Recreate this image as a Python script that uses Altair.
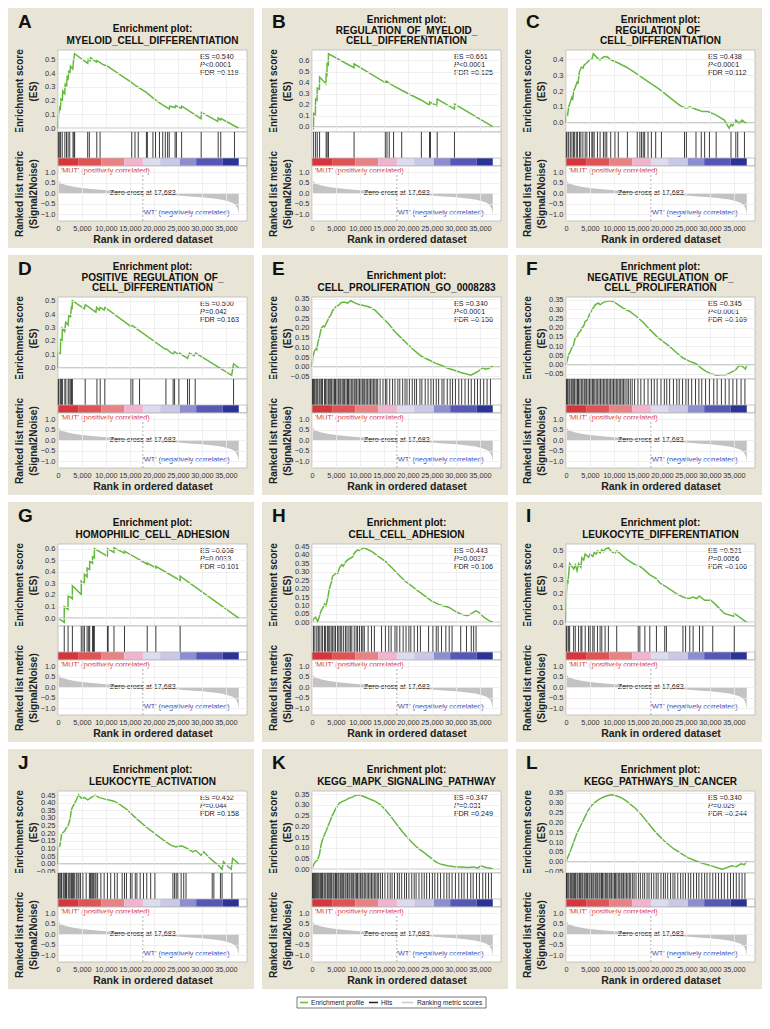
import altair as alt
import numpy as np
import pandas as pd

FONT = "Liberation Sans"
BEIGE = "#e8e5d6"
BORDER = "#b8b8b8"
GREEN = "#66b93f"

LETTERS = ["A", "B", "C", "D", "E", "F", "G", "H", "I", "J", "K", "L"]
TITLES = [
    ["Enrichment plot:", "MYELOID_CELL_DIFFERENTIATION"],
    ["Enrichment plot:", "REGULATION_OF_MYELOID_", "CELL_DIFFERENTIATION"],
    ["Enrichment plot:", "REGULATION_OF_", "CELL_DIFFERENTIATION"],
    ["Enrichment plot:", "POSITIVE_REGULATION_OF_", "CELL_DIFFERENTIATION"],
    ["Enrichment plot:", "CELL_PROLIFERATION_GO_0008283"],
    ["Enrichment plot:", "NEGATIVE_REGULATION_OF_", "CELL_PROLIFERATION"],
    ["Enrichment plot:", "HOMOPHILIC_CELL_ADHESION"],
    ["Enrichment plot:", "CELL_CELL_ADHESION"],
    ["Enrichment plot:", "LEUKOCYTE_DIFFERENTIATION"],
    ["Enrichment plot:", "LEUKOCYTE_ACTIVATION"],
    ["Enrichment plot:", "KEGG_MAPK_SIGNALING_PATHWAY"],
    ["Enrichment plot:", "KEGG_PATHWAYS_IN_CANCER"],
]
ES_TEXT = ["ES =0.540", "ES =0.661", "ES =0.438", "ES =0.500", "ES =0.340", "ES =0.345",
           "ES =0.608", "ES =0.443", "ES =0.521", "ES =0.452", "ES =0.347", "ES =0.340"]
P_TEXT = ["<0.0001", "<0.0001", "<0.0001", "=0.042", "<0.0001", "<0.0001",
          "=0.0033", "=0.0037", "=0.0056", "=0.044", "=0.031", "=0.029"]
FDR_TEXT = ["FDR =0.119", "FDR =0.125", "FDR =0.112", "FDR =0.163", "FDR =0.156", "FDR =0.169",
            "FDR =0.101", "FDR =0.106", "FDR =0.106", "FDR =0.158", "FDR =0.249", "FDR =0.244"]
TICK_STEP = [0.1, 0.1, 0.1, 0.1, 0.05, 0.05, 0.1, 0.05, 0.1, 0.05, 0.05, 0.05]

# running enrichment score: (rank in thousands, ES)
ES_A = [(0, 0), (0.1, 0.09), (0.3, 0.15), (0.5, 0.14), (0.6, 0.21), (0.9, 0.20), (1.0, 0.27), (1.4, 0.25),
        (1.5, 0.32), (1.8, 0.31), (1.9, 0.37), (2.1, 0.36), (2.2, 0.41), (2.5, 0.40), (2.6, 0.45), (3.1, 0.43),
        (3.2, 0.48), (3.45, 0.54), (6.2, 0.47), (6.3, 0.50), (6.7, 0.49), (6.8, 0.51), (8.0, 0.48), (8.1, 0.49),
        (9.5, 0.46), (10.3, 0.45), (15.4, 0.33), (16.1, 0.31), (18.4, 0.26), (20.5, 0.20), (21.8, 0.17),
        (23.2, 0.14), (23.3, 0.16), (24.4, 0.15), (24.5, 0.165), (25.7, 0.145), (25.8, 0.16), (29.8, 0.07),
        (29.9, 0.115), (33.3, 0.05), (33.4, 0.075), (33.9, 0.06), (34.0, 0.07), (37.68, 0.0)]
ES_B = [(0, 0), (0.3, -0.014), (0.34, 0.12), (0.7, 0.11), (0.75, 0.25), (1.05, 0.24), (1.1, 0.35), (1.55, 0.34),
        (1.58, 0.45), (2.9, 0.39), (2.95, 0.48), (3.1, 0.47), (3.15, 0.57), (3.4, 0.56), (3.43, 0.661),
        (8.75, 0.535), (8.77, 0.57), (15.25, 0.40), (15.28, 0.41), (15.6, 0.40), (15.63, 0.41), (16.1, 0.395),
        (17.0, 0.37), (18.7, 0.33), (22.8, 0.24), (24.5, 0.195), (24.52, 0.225), (26.0, 0.19), (26.1, 0.25),
        (29.7, 0.16), (29.72, 0.205), (37.68, 0.0)]
ES_C = [(0, 0), (0.1, 0.06), (0.35, 0.05), (0.55, 0.10), (0.9, 0.13), (1.2, 0.16), (1.4, 0.15), (1.6, 0.20),
        (1.9, 0.22), (2.3, 0.255), (2.5, 0.25), (2.8, 0.32), (3.2, 0.35), (3.6, 0.345), (3.7, 0.36), (4.4, 0.38),
        (5.0, 0.40), (5.4, 0.40), (5.7, 0.435), (6.8, 0.40), (7.1, 0.395), (7.8, 0.415), (8.5, 0.417),
        (9.2, 0.40), (11.3, 0.37), (12.6, 0.35), (14.7, 0.31), (16.8, 0.265), (19.5, 0.21), (21.6, 0.16),
        (23.7, 0.11), (24.4, 0.10), (25.1, 0.09), (25.8, 0.10), (27.1, 0.085), (28.5, 0.07), (29.6, 0.07),
        (31.3, 0.048), (33.0, 0.017), (34.0, -0.035), (34.4, -0.01), (34.7, -0.02), (35.4, 0.017),
        (36.1, -0.005), (36.7, 0.017), (37.5, -0.004), (37.68, 0.0)]
ES_D = [(0, 0), (0.07, 0.11), (0.5, 0.105), (0.55, 0.21), (0.85, 0.2), (0.9, 0.295), (1.4, 0.27), (1.6, 0.34),
        (2.1, 0.32), (2.25, 0.39), (2.6, 0.38), (2.8, 0.45), (2.95, 0.445), (3.0, 0.50), (5.5, 0.44), (5.7, 0.47),
        (7.9, 0.415), (8.05, 0.45), (8.6, 0.43), (8.8, 0.45), (9.6, 0.43), (9.8, 0.45), (15.1, 0.31),
        (15.5, 0.315), (16.8, 0.28), (22.3, 0.14), (22.6, 0.14), (24.0, 0.10), (24.3, 0.12), (25.0, 0.10),
        (25.3, 0.11), (27.0, 0.07), (27.4, 0.11), (28.4, 0.09), (28.7, 0.11), (36.2, -0.056), (36.6, 0.03),
        (37.68, 0.0)]
ES_E = [(0, 0), (0.2, 0.054), (0.5, 0.08), (0.9, 0.095), (1.0, 0.09), (1.2, 0.12), (1.6, 0.16), (1.9, 0.195),
        (2.3, 0.21), (2.6, 0.205), (2.9, 0.22), (3.3, 0.24), (3.6, 0.255), (4.0, 0.27), (4.3, 0.29), (5.0, 0.31),
        (5.7, 0.32), (6.0, 0.33), (6.7, 0.333), (7.4, 0.328), (8.1, 0.34), (8.8, 0.33), (9.8, 0.32),
        (11.2, 0.313), (12.2, 0.305), (13.2, 0.29), (14.6, 0.255), (16.0, 0.22), (17.3, 0.18), (18.7, 0.146),
        (20.1, 0.112), (21.5, 0.08), (22.8, 0.054), (24.2, 0.037), (25.6, 0.02), (26.9, 0.008), (28.3, -0.008),
        (29.7, -0.018), (31.0, -0.03), (32.4, -0.039), (33.1, -0.044), (33.8, -0.035), (34.8, -0.022),
        (35.5, -0.005), (36.2, -0.013), (36.9, -0.008), (37.68, 0.003)]
ES_F = [(0, 0), (0.2, 0.018), (0.55, 0.054), (0.9, 0.072), (1.2, 0.09), (1.6, 0.108), (1.9, 0.144), (2.3, 0.15),
        (2.6, 0.17), (3.0, 0.18), (3.3, 0.197), (3.7, 0.21), (4.0, 0.233), (4.4, 0.24), (4.7, 0.26), (5.0, 0.275),
        (5.4, 0.296), (5.8, 0.31), (6.1, 0.323), (6.5, 0.33), (6.8, 0.332), (7.1, 0.323), (7.5, 0.33),
        (7.8, 0.336), (8.3, 0.34), (8.8, 0.345), (9.4, 0.344), (9.9, 0.341), (10.9, 0.323), (11.9, 0.305),
        (13.3, 0.287), (14.7, 0.26), (16.1, 0.228), (17.5, 0.189), (18.9, 0.153), (20.2, 0.126), (21.6, 0.099),
        (23.0, 0.066), (24.4, 0.036), (25.8, 0.018), (27.1, 0.005), (28.2, -0.018), (29.2, -0.036),
        (30.2, -0.048), (31.3, -0.057), (32.3, -0.054), (33.4, -0.054), (34.4, -0.041), (35.4, -0.027),
        (36.1, -0.004), (36.8, -0.009), (37.4, -0.023), (37.68, -0.002)]
ES_G = [(0, 0), (1.3, -0.036), (1.3, 0.098), (2.1, 0.075), (2.1, 0.195), (3.0, 0.168), (3.0, 0.28), (4.85, 0.204),
        (4.85, 0.32), (5.5, 0.30), (5.5, 0.377), (6.07, 0.357), (6.07, 0.433), (6.6, 0.42), (6.6, 0.49),
        (7.2, 0.475), (7.2, 0.53), (7.58, 0.52), (7.58, 0.60), (10.3, 0.535), (10.3, 0.60), (10.5, 0.595),
        (11.67, 0.567), (11.67, 0.608), (13.86, 0.562), (13.86, 0.578), (18.6, 0.466), (18.6, 0.475),
        (20.4, 0.433), (20.4, 0.447), (25.46, 0.325), (25.46, 0.363), (37.68, 0.0)]
ES_H = [(0, 0), (0.35, 0.02), (0.75, 0.03), (1.2, 0.004), (1.6, 0.04), (1.9, 0.068), (2.3, 0.088), (2.6, 0.108),
        (2.9, 0.098), (3.3, 0.147), (3.6, 0.196), (4.0, 0.235), (4.3, 0.274), (4.7, 0.284), (5.0, 0.294),
        (5.4, 0.29), (5.7, 0.323), (6.2, 0.342), (6.5, 0.333), (7.1, 0.362), (7.7, 0.376), (8.1, 0.382),
        (8.5, 0.39), (8.8, 0.411), (9.5, 0.43), (10.0, 0.425), (10.5, 0.44), (10.8, 0.443), (11.5, 0.434),
        (12.5, 0.42), (13.9, 0.39), (15.3, 0.362), (16.7, 0.323), (18.0, 0.284), (19.4, 0.245), (20.8, 0.215),
        (22.1, 0.186), (23.5, 0.157), (24.9, 0.127), (26.3, 0.108), (27.3, 0.098), (28.6, 0.088), (29.7, 0.068),
        (31.0, 0.049), (32.4, 0.039), (33.1, 0.049), (34.1, 0.068), (34.8, 0.059), (35.8, 0.03), (36.9, 0.01),
        (37.68, 0.0)]
ES_I = [(0, 0), (0.07, 0.166), (0.2, 0.293), (0.4, 0.28), (0.76, 0.41), (1.6, 0.373), (1.93, 0.40), (2.3, 0.36),
        (2.62, 0.41), (3.1, 0.385), (3.31, 0.45), (3.7, 0.435), (4.0, 0.477), (4.7, 0.454), (5.04, 0.477),
        (5.59, 0.46), (5.87, 0.488), (6.3, 0.477), (6.56, 0.50), (7.11, 0.484), (7.46, 0.507), (7.8, 0.493),
        (8.15, 0.51), (8.84, 0.521), (9.5, 0.493), (10.2, 0.484), (10.57, 0.50), (12.6, 0.442), (14.7, 0.396),
        (15.06, 0.40), (16.1, 0.373), (17.5, 0.332), (18.9, 0.304), (19.5, 0.276), (20.9, 0.247), (23.0, 0.20),
        (24.4, 0.177), (25.1, 0.17), (25.8, 0.166), (26.4, 0.177), (27.3, 0.166), (27.8, 0.184), (28.9, 0.154),
        (30.2, 0.154), (31.3, 0.12), (33.0, 0.062), (35.08, 0.04), (35.1, 0.062), (37.68, 0.0)]
ES_J = [(0, 0), (0.07, 0.11), (0.4, 0.12), (0.75, 0.195), (1.1, 0.206), (1.4, 0.217), (1.8, 0.238), (2.1, 0.248),
        (2.5, 0.29), (2.8, 0.355), (3.1, 0.376), (3.5, 0.397), (3.8, 0.418), (4.3, 0.452), (4.85, 0.43),
        (5.5, 0.433), (6.2, 0.418), (7.2, 0.44), (7.7, 0.45), (8.6, 0.433), (9.6, 0.425), (10.6, 0.418),
        (11.7, 0.41), (13.0, 0.386), (14.4, 0.355), (15.8, 0.312), (17.1, 0.276), (18.5, 0.238), (19.9, 0.206),
        (21.2, 0.174), (22.6, 0.142), (23.6, 0.121), (24.6, 0.11), (25.3, 0.117), (26.0, 0.115), (27.0, 0.10),
        (28.1, 0.079), (28.7, 0.089), (29.8, 0.057), (30.4, 0.079), (31.5, 0.042), (32.5, 0.015),
        (33.5, -0.01), (34.2, -0.035), (34.5, 0.015), (35.2, -0.01), (36.1, -0.035), (36.4, 0.036),
        (37.68, 0.0)]
ES_K = [(0, 0), (0.35, 0.023), (0.75, 0.036), (1.2, 0.044), (1.6, 0.075), (1.9, 0.114), (2.3, 0.145),
        (2.9, 0.176), (3.6, 0.215), (4.3, 0.253), (5.0, 0.285), (5.7, 0.308), (6.4, 0.316), (7.1, 0.323),
        (7.7, 0.331), (8.4, 0.336), (9.1, 0.344), (9.8, 0.347), (10.8, 0.339), (11.9, 0.328), (13.2, 0.316),
        (14.3, 0.30), (15.3, 0.277), (16.7, 0.238), (18.0, 0.199), (19.4, 0.16), (20.8, 0.126), (22.1, 0.098),
        (23.5, 0.075), (24.9, 0.051), (25.9, 0.033), (26.9, 0.023), (28.3, 0.016), (29.7, 0.012), (31.0, 0.011),
        (32.4, 0.008), (33.8, 0.011), (34.5, 0.005), (35.2, 0.016), (36.3, 0.008), (37.2, 0.005), (37.68, 0.002)]
ES_L = [(0, 0), (0.5, 0.03), (1.0, 0.06), (1.6, 0.1), (2.2, 0.14), (3.0, 0.18), (3.8, 0.22), (4.6, 0.26),
        (5.5, 0.29), (6.5, 0.31), (7.5, 0.325), (8.5, 0.335), (9.5, 0.34), (10.5, 0.335), (11.5, 0.325),
        (12.5, 0.31), (13.5, 0.29), (14.5, 0.27), (15.5, 0.245), (16.5, 0.215), (17.5, 0.185), (18.5, 0.155),
        (19.5, 0.13), (20.5, 0.105), (21.5, 0.085), (22.5, 0.065), (23.5, 0.05), (24.5, 0.035), (25.5, 0.02),
        (26.5, 0.01), (27.5, 0.0), (28.5, -0.008), (29.5, -0.015), (30.5, -0.022), (31.5, -0.03),
        (32.5, -0.038), (33.5, -0.03), (34.5, -0.02), (35.5, -0.025), (36.5, -0.01), (37.2, -0.015),
        (37.68, 0.002)]
ES_CURVES = [ES_A, ES_B, ES_C, ES_D, ES_E, ES_F, ES_G, ES_H, ES_I, ES_J, ES_K, ES_L]

# gene-set hit positions (rank in thousands)
HITS_A = [0.07, 0.27, 0.54, 0.88, 1.43, 1.77, 2.11, 2.45, 3.13, 3.33, 3.47, 6.19, 6.53, 8.09, 8.77, 15.37,
          16.05, 16.73, 18.43, 18.63, 19.79, 20.33, 21.15, 21.83, 22.37, 22.85, 23.19, 24.41, 24.68, 25.77,
          29.85, 33.39, 33.93, 36.79]
HITS_B = [0.34, 0.75, 1.1, 1.58, 2.95, 3.15, 3.43, 8.77, 15.28, 15.63, 16.1, 17.0, 18.7, 22.8, 24.5, 24.7,
          26.1, 29.7]
HITS_C = [0.07, 0.2, 0.55, 0.9, 1.24, 1.59, 1.73, 2.14, 2.42, 2.83, 3.1, 3.52, 4.0, 4.35, 4.9, 5.39, 5.59,
          5.87, 6.56, 7.11, 7.8, 8.15, 8.5, 9.32, 10.2, 10.9, 12.8, 14.85, 15.4, 15.75, 16.1, 16.4, 17.1, 17.8,
          18.7, 19.9, 24.7, 25.1, 27.1, 28.2, 28.9, 29.9, 31.3, 34.4, 35.4, 35.8, 37.2]
HITS_D = [0.07, 0.2, 0.55, 0.75, 0.96, 1.43, 1.64, 2.12, 2.32, 2.66, 2.8, 3.0, 5.67, 8.12, 8.8, 9.76, 15.2,
          15.6, 17.0, 22.5, 24.0, 24.3, 25.2, 27.0, 27.4, 28.6, 36.6]
HITS_E = [0.1, 0.3, 0.5, 0.8, 1.0, 1.2, 1.5, 1.7, 2.0, 2.2, 2.6, 2.8, 3.1, 3.4, 3.6, 3.9, 4.1, 4.4, 4.7, 4.9,
          5.2, 5.5, 5.8, 6.0, 6.3, 6.6, 6.8, 7.1, 7.4, 7.6, 7.9, 8.2, 8.5, 8.8, 9.0, 9.3, 9.6, 9.9, 10.2, 10.5,
          10.8, 11.0, 11.3, 11.6, 11.9, 12.2, 12.5, 12.8, 13.1, 13.4, 13.7, 14.2, 14.8, 15.3, 15.6, 16.2, 16.8,
          17.3, 17.9, 18.3, 18.9, 19.4, 19.8, 20.3, 20.9, 21.4, 21.8, 22.5, 22.9, 23.6, 24.2, 24.8, 25.3, 25.9,
          26.4, 27.1, 27.5, 28.2, 28.8, 29.3, 29.9, 30.6, 31.2, 31.9, 32.6, 33.2, 33.9, 34.5, 35.1, 35.8, 36.5,
          37.2]
HITS_F = [0.1, 0.3, 0.6, 0.8, 1.1, 1.3, 1.6, 1.8, 2.1, 2.4, 2.6, 2.9, 3.2, 3.5, 3.8, 4.0, 4.3, 4.6, 4.9, 5.2,
          5.5, 5.7, 6.0, 6.3, 6.6, 6.9, 7.2, 7.5, 7.8, 8.1, 8.4, 8.7, 9.0, 9.3, 9.6, 9.9, 10.2, 10.5, 10.8,
          11.1, 11.4, 11.7, 12.0, 12.3, 12.7, 13.0, 13.4, 13.8, 14.3, 15.0, 15.6, 16.3, 17.1, 17.8, 18.4, 19.0,
          19.8, 20.5, 21.0, 21.6, 22.4, 23.1, 23.6, 24.3, 25.0, 25.5, 26.2, 27.0, 27.7, 28.3, 29.1, 29.9, 30.8,
          31.5, 32.4, 33.2, 34.0, 34.8, 35.6, 36.5, 37.3]
HITS_G = [1.3, 2.1, 3.0, 4.85, 5.2, 5.5, 6.07, 6.4, 6.6, 7.2, 7.4, 7.58, 10.3, 10.45, 11.67, 13.86, 18.6,
          20.4, 25.46]
HITS_H = [0.3, 0.6, 1.0, 1.3, 1.5, 1.9, 2.2, 2.6, 2.8, 3.2, 3.4, 3.7, 4.0, 4.3, 4.6, 4.9, 5.3, 5.6, 5.9, 6.2,
          6.6, 7.0, 7.3, 7.7, 8.0, 8.3, 8.8, 9.2, 9.5, 9.9, 10.3, 10.6, 10.9, 11.7, 12.4, 13.0, 14.5, 15.3,
          16.0, 16.5, 17.3, 17.7, 18.3, 19.0, 19.6, 20.2, 20.6, 21.3, 22.0, 22.6, 24.3, 25.2, 25.9, 26.3, 27.0,
          27.9, 28.6, 29.2, 31.0, 32.2, 33.2, 33.7, 34.2]
HITS_I = [0.07, 0.2, 0.55, 0.76, 1.59, 1.93, 2.62, 3.11, 3.31, 4.0, 4.7, 5.04, 5.59, 5.87, 6.56, 7.11, 7.46,
          8.15, 8.84, 10.57, 15.06, 15.4, 16.44, 17.47, 18.85, 20.58, 20.93, 24.38, 24.93, 25.8, 26.5, 27.83,
          28.52, 30.59, 35.08]
HITS_J = [0.07, 0.2, 0.41, 0.61, 0.75, 1.09, 1.3, 1.57, 1.77, 2.12, 2.32, 2.53, 2.8, 3.0, 3.21, 3.48, 3.82,
          4.16, 4.37, 4.71, 5.19, 5.87, 6.55, 6.76, 7.03, 7.24, 7.44, 7.71, 7.92, 8.26, 8.94, 9.62, 10.3, 10.99,
          11.81, 12.35, 13.38, 13.86, 14.27, 15.09, 15.43, 16.11, 16.45, 17.13, 17.82, 18.5, 19.32, 20.2,
          23.96, 24.3, 24.64, 24.98, 25.67, 26.21, 26.69, 32.15, 32.49, 33.86, 34.2, 36.25]
HITS_K = [0.1, 0.3, 0.5, 0.7, 0.9, 1.1, 1.3, 1.5, 1.8, 2.0, 2.2, 2.5, 2.7, 2.9, 3.2, 3.4, 3.7, 3.9, 4.1, 4.4,
          4.6, 4.9, 5.1, 5.4, 5.6, 5.9, 6.1, 6.4, 6.6, 6.9, 7.1, 7.4, 7.7, 7.9, 8.2, 8.5, 8.7, 9.0, 9.3, 9.5,
          9.8, 10.1, 10.4, 10.6, 10.9, 11.2, 11.5, 11.8, 12.1, 12.4, 12.7, 13.0, 13.3, 13.6, 13.9, 14.3, 14.7,
          15.2, 15.8, 16.3, 16.7, 17.2, 17.8, 18.2, 18.7, 19.3, 19.7, 20.2, 20.8, 21.3, 21.7, 22.3, 22.9, 23.4,
          23.9, 24.5, 25.1, 25.6, 26.2, 26.8, 27.5, 28.1, 28.6, 29.2, 29.9, 30.6, 31.2, 31.7, 32.4, 33.1, 33.6,
          34.3, 34.9, 35.6, 36.2, 36.8, 37.4]
HITS_L = [0.1, 0.2, 0.4, 0.6, 0.9, 1.1, 1.3, 1.6, 1.8, 2.0, 2.3, 2.5, 2.8, 3.0, 3.3, 3.5, 3.8, 4.0, 4.3, 4.5,
          4.8, 5.0, 5.3, 5.6, 5.8, 6.1, 6.3, 6.6, 6.9, 7.1, 7.4, 7.6, 7.9, 8.2, 8.4, 8.7, 9.0, 9.2, 9.5, 9.8,
          10.1, 10.3, 10.6, 10.9, 11.2, 11.5, 11.7, 12.0, 12.3, 12.6, 12.9, 13.2, 13.5, 13.9, 14.2, 14.6, 15.1,
          15.5, 16.0, 16.4, 16.9, 17.3, 17.8, 18.3, 18.8, 19.2, 19.8, 20.3, 20.7, 21.2, 21.8, 22.3, 22.7, 23.3,
          23.9, 24.4, 24.9, 25.5, 26.0, 26.6, 27.2, 27.7, 28.3, 28.9, 29.4, 30.0, 30.6, 31.2, 31.8, 32.4, 33.0,
          33.7, 34.3, 34.9, 35.5, 36.1, 36.7, 37.3]
HITS = [HITS_A, HITS_B, HITS_C, HITS_D, HITS_E, HITS_F, HITS_G, HITS_H, HITS_I, HITS_J, HITS_K, HITS_L]

# ranked list metric (shared by all panels)
METRIC_RANK_K = [0, 0.05, 0.2, 0.5, 1.0, 2.0, 3.5, 5.0, 7.0, 10.0, 12.5, 15.0, 17.683, 20.0, 22.5, 25.0, 27.5,
                 30.0, 32.0, 34.0, 35.5, 36.5, 37.2, 37.5, 37.683]
METRIC_VALUE = [0.80, 0.68, 0.58, 0.50, 0.44, 0.37, 0.30, 0.25, 0.20, 0.14, 0.10, 0.06, 0.0, -0.04, -0.08,
                -0.11, -0.15, -0.19, -0.24, -0.30, -0.38, -0.46, -0.62, -0.78, -1.02]
ZERO_CROSS = 17683
WT_LABEL_RANK = 35800
BAR_EDGES_K = [0, 4.2, 9.0, 13.8, 17.7, 21.3, 25.4, 28.8, 34.3, 37.683]
BAR_COLORS = ["#d6363b", "#e05355", "#e98284", "#f0b4cf", "#dddcee", "#c9c8e6", "#8c8ecf", "#5558b6", "#2b3396"]
X_TICKS = [0, 5000, 10000, 15000, 20000, 25000, 30000, 35000]
RANK_TICKS = [-1.0, -0.5, 0.0, 0.5, 1.0]
LEGEND_ITEMS = ["Enrichment profile", "Hits", "Ranking metric scores"]
LEGEND_COLORS = [GREEN, "#222222", "#c8c8c8"]

# layout (pixels)
LM, W, RM = 50, 189, 7
T, H_ES, H_HITS, HITS_BAND, H_RANK, B = 42, 82, 34, 26, 55, 27
LEGEND_PANEL = 10            # the legend box hangs below panel K (bottom middle)
LEG_TOP = H_RANK + B + 8     # relative to panel K's ranked-metric plot
LEG_BOX = (-15, 174)
LEG_LINES = [(-12, -4), (57, 66), (90, 101)]
LEG_TEXT_X = [-1, 69, 105]

one = pd.DataFrame({"k": [0]})
xs = alt.Scale(domain=[0, 39400], nice=False, zero=False)
ys_rank = alt.Scale(domain=[-1.32, 1.3], nice=False, zero=False)


def rect(x1, x2, y1, y2, **kw):
    return alt.Chart(one).mark_rect(**kw).encode(
        x=alt.value(x1), x2=alt.value(x2), y=alt.value(y1), y2=alt.value(y2))


def txt(text, x, y, **kw):
    return alt.Chart(one).mark_text(text=text, **kw).encode(x=alt.value(x), y=alt.value(y))


def y_axis(title, values, fmt):
    return alt.Axis(title=title, values=values, format=fmt, labelFontSize=7.5, labelColor="#333",
                    labelPadding=3, labelOverlap=False, ticks=False, domain=False, grid=True,
                    gridColor="#ececec", gridWidth=0.8, titleFontSize=10, titleFontWeight="bold",
                    titleColor="#222", titleLineHeight=14, titlePadding=3, minExtent=17, maxExtent=17,
                    zindex=1)


ES_XAXIS = alt.Axis(values=X_TICKS, grid=True, labels=False, ticks=False, domain=False, title="",
                    gridColor="#ececec", gridWidth=0.8, zindex=1)
RANK_XAXIS = alt.Axis(values=X_TICKS, format=",d", title="Rank in ordered dataset", labelFontSize=7.3,
                      labelColor="#333", labelPadding=3, labelOverlap=False, labelFlush=False, ticks=False,
                      domain=False, grid=True, gridColor="#ececec", gridWidth=0.8, titleFontSize=10.5,
                      titleFontWeight="bold", titleColor="#222", titlePadding=3, zindex=1)
RANK_YAXIS = y_axis(["Ranked list metric", "(Signal2Noise)"], RANK_TICKS, ".1f")


def es_view(i):
    pts = ES_CURVES[i]
    df = pd.DataFrame({"rank": [p[0] * 1000 for p in pts], "es": [p[1] for p in pts]})
    df["i"] = range(len(df))
    lo_d, hi_d = float(df["es"].min()), float(df["es"].max())
    r = hi_d - lo_d
    lo, hi = lo_d - 0.05 * r, hi_d + 0.05 * r
    step = TICK_STEP[i]
    ticks = [float(np.round(v, 4)) for v in np.arange(np.ceil(lo / step - 1e-9) * step, hi + 1e-9, step)]
    fmt = ".1f" if step >= 0.1 else ".2f"
    ys = alt.Scale(domain=[lo, hi], nice=False, zero=False)
    yax = y_axis(["Enrichment score", "(ES)"], ticks, fmt)

    bg = rect(-LM, W + RM, -T, H_ES, fill=BEIGE)
    plot = rect(0, W, 0, H_ES, fill="white", stroke=BORDER, strokeWidth=0.8)
    zero = alt.Chart(pd.DataFrame({"rank": [0.0], "es": [0.0]})).mark_rule(
        color="#cccccc", strokeWidth=1.6).encode(y=alt.Y("es:Q", scale=ys, axis=yax))
    line = alt.Chart(df).mark_line(strokeWidth=1.5, color=GREEN).encode(
        x=alt.X("rank:Q", scale=xs, axis=ES_XAXIS),
        y=alt.Y("es:Q", scale=ys, axis=yax),
        order=alt.Order("i:Q"),
    )
    sx = W - 47
    stats = [
        txt(ES_TEXT[i], sx, 7, align="left", baseline="middle", fontSize=7.2, color="#222"),
        txt("P", sx, 15, align="left", baseline="middle", fontSize=7.2, fontStyle="italic", color="#222"),
        txt(P_TEXT[i], sx + 5, 15, align="left", baseline="middle", fontSize=7.2, color="#222"),
        txt(FDR_TEXT[i], sx, 23, align="left", baseline="middle", fontSize=7.2, color="#222"),
    ]
    lines = TITLES[i]
    gap = 12 if len(lines) == 2 else 10.5
    titles = [txt(s, W / 2, -6 - gap * (len(lines) - 1 - k), align="center", baseline="alphabetic",
                  fontSize=10, fontWeight="bold", color="#111") for k, s in enumerate(lines)]
    letter = txt(LETTERS[i], 10 - LM, -22, align="left", baseline="alphabetic", fontSize=19,
                 fontWeight="bold", color="#111")
    return alt.layer(bg, plot, zero, line, *stats, *titles, letter).properties(width=W, height=H_ES)


def hits_view(i):
    hd = pd.DataFrame({"rank": [h * 1000 for h in HITS[i]]})
    bar = pd.DataFrame({"rank": [e * 1000 for e in BAR_EDGES_K[:-1]],
                        "end": [e * 1000 for e in BAR_EDGES_K[1:]], "c": BAR_COLORS})
    bg = rect(-LM, W + RM, 0, H_HITS, fill=BEIGE)
    plot = rect(0, W, 0, H_HITS, fill="white", stroke=BORDER, strokeWidth=0.8)
    hits = alt.Chart(hd).mark_rule(color="#262626", strokeWidth=0.9).encode(
        x=alt.X("rank:Q", scale=xs, axis=None), y=alt.value(0), y2=alt.value(HITS_BAND))
    bars = alt.Chart(bar).mark_rect().encode(
        x=alt.X("rank:Q", scale=xs, axis=None), x2="end:Q",
        y=alt.value(HITS_BAND), y2=alt.value(H_HITS),
        fill=alt.Fill("c:N", scale=None, legend=None))
    frame = rect(0, W, HITS_BAND, H_HITS, fill="transparent", stroke=BORDER, strokeWidth=0.8)
    return alt.layer(bg, plot, hits, bars, frame).properties(width=W, height=H_HITS)


def legend_parts():
    yc = LEG_TOP + 5.5
    parts = [rect(LEG_BOX[0], LEG_BOX[1], LEG_TOP, LEG_TOP + 11, fill="white", stroke="#555555",
                  strokeWidth=0.8)]
    for (x1, x2), tx, name, col in zip(LEG_LINES, LEG_TEXT_X, LEGEND_ITEMS, LEGEND_COLORS):
        parts.append(alt.Chart(one).mark_rule(color=col, strokeWidth=1.5).encode(
            x=alt.value(x1), x2=alt.value(x2), y=alt.value(yc)))
        parts.append(txt(name, tx, yc, align="left", baseline="middle", fontSize=6.6, color="#222"))
    return parts


def rank_view(i):
    md = pd.DataFrame({"rank": [r * 1000 for r in METRIC_RANK_K], "metric": METRIC_VALUE})
    zc = pd.DataFrame({"rank": [ZERO_CROSS], "metric": [0.0]})
    wt_pos = pd.DataFrame({"rank": [WT_LABEL_RANK], "metric": [-1.0]})
    X = alt.X("rank:Q", scale=xs, axis=RANK_XAXIS)
    Y = alt.Y("metric:Q", scale=ys_rank, axis=RANK_YAXIS)
    bg = rect(-LM, W + RM, 0, H_RANK + B, fill=BEIGE)
    plot = rect(0, W, 0, H_RANK, fill="white", stroke=BORDER, strokeWidth=0.8)
    area = alt.Chart(md).mark_area(color="#c3c3c3").encode(x=X, y=Y, y2=alt.datum(0))
    dash = alt.Chart(zc).mark_rule(color="#9a9a9a", strokeDash=[2, 2], strokeWidth=0.8).encode(
        x=X, y=alt.value(9), y2=alt.value(H_RANK))
    zctext = alt.Chart(zc).mark_text(text=f"Zero cross at {ZERO_CROSS:,}", fontSize=7.2, color="#222",
                                     align="center", baseline="middle").encode(x=X, y=Y)
    mut = txt("'MUT' (positively correlated)", 3, 4.5, align="left", baseline="middle", fontSize=7.2,
              color="#d9363b")
    wt = alt.Chart(wt_pos).mark_text(text="'WT' (negatively correlated)", fontSize=7.2, color="#3e45b0",
                                     align="right", baseline="middle", dy=-1).encode(x=X, y=Y)
    layers = [bg, plot, area, dash, zctext, mut, wt]
    if i == LEGEND_PANEL:
        layers += legend_parts()
    return alt.layer(*layers).properties(width=W, height=H_RANK)


def panel(i):
    return alt.vconcat(es_view(i), hits_view(i), rank_view(i), spacing=0, bounds="flush")


rows = [alt.hconcat(*[panel(r * 3 + c) for c in range(3)], spacing=8) for r in range(4)]
chart = (
    alt.vconcat(*rows, spacing=7)
    .properties(padding=0, background="white")
    .configure(font=FONT)
    .configure_view(strokeWidth=0)
)
chart.save("out.html", embed_options={"renderer": "svg", "actions": False})
